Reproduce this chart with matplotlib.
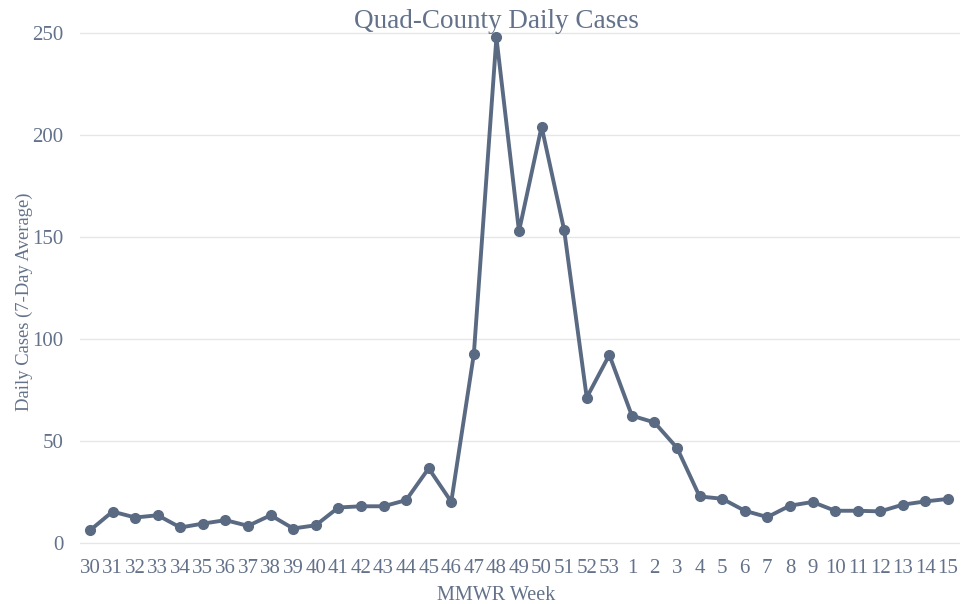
import matplotlib
matplotlib.use("Agg")
import matplotlib.pyplot as plt

weeks = ["30", "31", "32", "33", "34", "35", "36", "37", "38", "39", "40", "41",
         "42", "43", "44", "45", "46", "47", "48", "49", "50", "51", "52", "53",
         "1", "2", "3", "4", "5", "6", "7", "8", "9", "10", "11", "12", "13", "14", "15"]
cases = [6.2, 15.4, 12.5, 13.6, 7.6, 9.5, 11.2, 8.4, 13.6, 7.1, 8.7, 17.4,
         18.0, 18.0, 21.0, 36.6, 20.2, 92.6, 247.8, 152.8, 204.1, 153.4, 71.3, 92.2,
         62.4, 59.1, 46.6, 22.8, 21.7, 15.8, 12.7, 18.3, 20.1, 15.8, 15.8, 15.5, 18.8, 20.4, 21.6]
yticks = [0, 50, 100, 150, 200, 250]

line_color = "#5a6a83"
text_color = "#63728a"
plt.rcParams["font.family"] = ["Liberation Serif", "DejaVu Serif"]

W, H = 969, 604
fig = plt.figure(figsize=(W / 100, H / 100), dpi=100)
y0_px, y250_px = 543.0, 33.0
ppu = (y0_px - y250_px) / 250.0
ylo, yhi = -5.0, 256.0
bot_px = y0_px + (0 - ylo) * ppu
top_px = y0_px - yhi * ppu
x_first, x_last = 90.0, 948.0
ppx = (x_last - x_first) / (len(weeks) - 1)
left_px, right_px = 80.0, 960.0
ax = fig.add_axes([left_px / W, 1 - bot_px / H, (right_px - left_px) / W, (bot_px - top_px) / H])
ax.set_xlim(-(x_first - left_px) / ppx, (len(weeks) - 1) + (right_px - x_last) / ppx)
ax.set_ylim(ylo, yhi)

xs = list(range(len(weeks)))
ax.plot(xs, cases, color=line_color, lw=2.8, marker="o", markersize=7, zorder=3)

ax.set_yticks(yticks)
ax.set_xticks(xs)
ax.set_xticklabels(weeks)
ax.grid(axis="y", color="#e6e6e6", lw=1.0, zorder=0)
ax.set_axisbelow(True)
for s in ax.spines.values():
    s.set_visible(False)
ax.tick_params(axis="both", length=0, labelsize=15, labelcolor=text_color)
ax.tick_params(axis="y", pad=12)
ax.tick_params(axis="x", pad=4)

fig.text(496 / W, 1 - 21 / H, "Quad-County Daily Cases", ha="center", va="center",
         fontsize=19.5, color=text_color)
fig.text(496 / W, 1 - 595 / H, "MMWR Week", ha="center", va="center",
         fontsize=14.5, color=text_color)
fig.text(24 / W, 1 - 302 / H, "Daily Cases (7-Day Average)", ha="center", va="center",
         rotation=90, fontsize=13.4, color=text_color)

fig.savefig("out.png", dpi=100, facecolor="white")
